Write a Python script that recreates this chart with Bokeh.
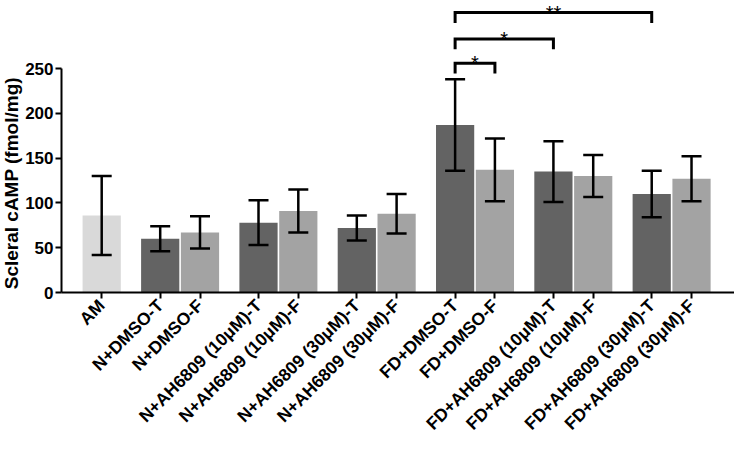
from bokeh.plotting import figure
from bokeh.models import ColumnDataSource, Range1d, FixedTicker, Whisker, TeeHead
from bokeh.core.properties import value
from bokeh.embed import file_html
from bokeh.resources import INLINE
import math

# ---- data ----
categories = ["AM", "N+DMSO-T", "N+DMSO-F",
              "N+AH6809 (10μM)-T", "N+AH6809 (10μM)-F",
              "N+AH6809 (30μM)-T", "N+AH6809 (30μM)-F",
              "FD+DMSO-T", "FD+DMSO-F",
              "FD+AH6809 (10μM)-T", "FD+AH6809 (10μM)-F",
              "FD+AH6809 (30μM)-T", "FD+AH6809 (30μM)-F"]
means = [86, 60, 67, 78, 91, 72, 88, 187, 137, 135, 130, 110, 127]
errors = [44, 14, 18, 25, 24, 14, 22, 51, 35, 34, 23.5, 26, 25]
y_ticks = [0, 50, 100, 150, 200, 250]
y_title = "Scleral cAMP  (fmol/mg)"
comparisons = [("FD+DMSO-T", "FD+DMSO-F", "*"),
               ("FD+DMSO-T", "FD+AH6809 (10μM)-T", "*"),
               ("FD+DMSO-T", "FD+AH6809 (30μM)-T", "**")]

# ---- layout (pixels) ----
FONT = "Liberation Sans"
W, H = 734, 434
AX_LEFT = 61      # y-axis position from figure left
AX_BOTTOM = 292   # x-axis position from figure top
GAP = 1.47
X0, X1 = -1.01, 15.9
Y_TOP = 326
sx_scale = (W - AX_LEFT) / (X1 - X0)
sy_scale = AX_BOTTOM / Y_TOP
x_start = X0 - AX_LEFT / sx_scale
y_start = -(H - AX_BOTTOM) / sy_scale

xs = [0.0]
for g in range(6):
    base = GAP + g * (GAP + 1)
    xs += [base, base + 1]
pos = dict(zip(categories, xs))

def colour(c):
    if c == "AM":
        return "#d9d9d9"
    return "#636363" if c.endswith("-T") else "#a3a3a3"

src = ColumnDataSource(dict(
    x=xs, top=means, cat=categories,
    upper=[m + e for m, e in zip(means, errors)],
    lower=[m - e for m, e in zip(means, errors)],
    color=[colour(c) for c in categories]))

p = figure(width=W, height=H, output_backend="svg", toolbar_location=None,
           x_range=Range1d(x_start, X1), y_range=Range1d(y_start, Y_TOP),
           min_border=0)
p.outline_line_color = None
p.grid.visible = False
p.background_fill_color = "white"

p.vbar(x="x", top="top", width=0.96, bottom=0, source=src,
       fill_color="color", line_color=None)

w = Whisker(base="x", upper="upper", lower="lower", source=src,
            line_color="black", line_width=2.5, level="overlay",
            upper_head=TeeHead(size=20, line_width=2.5, line_color="black"),
            lower_head=TeeHead(size=20, line_width=2.5, line_color="black"))
p.add_layout(w)

# significance brackets
heights = [256, 283, 312.5]
leg = 11.5
bx, by, tx, ty, st = [], [], [], [], []
for (a, b, s), h in zip(comparisons, heights):
    x1, x2 = pos[a], pos[b]
    bx.append([x1, x1, x2, x2])
    by.append([h - leg, h, h, h - leg])
    tx.append((x1 + x2) / 2)
    ty.append(h)
    st.append(s)
p.multi_line(bx, by, line_color="black", line_width=3, line_join="miter")
p.text(tx, ty, text=st, text_align="center", text_baseline="middle",
       text_font=value(FONT), text_font_size="20px", text_color="#000000")

# axes, fixed at the data origin
for ax in (p.xaxis[0], p.yaxis[0]):
    ax.axis_line_width = 2
    ax.axis_line_color = "black"
    ax.major_tick_line_width = 2
    ax.major_tick_line_color = "black"
    ax.major_tick_out = 6
    ax.major_tick_in = 0
    ax.minor_tick_line_color = None
    ax.major_label_text_font = FONT
    ax.major_label_text_font_style = "bold"
    ax.major_label_text_color = "black"

p.yaxis.fixed_location = X0
p.yaxis.ticker = FixedTicker(ticks=y_ticks)
p.yaxis.bounds = (y_ticks[0], y_ticks[-1])
p.yaxis.major_label_standoff = 2
p.yaxis.major_label_text_font_size = "17px"

p.xaxis.fixed_location = 0
p.xaxis.bounds = (X0, X1)
p.xaxis.ticker = FixedTicker(ticks=xs)
p.xaxis.major_label_overrides = {x: c for x, c in zip(xs, categories)}
p.xaxis.major_label_orientation = math.pi / 4
p.xaxis.major_label_standoff = 4
p.xaxis.major_label_text_font_size = "17.5px"

# y-axis title, centred on the axis bounds
p.text([x_start + 11 / sx_scale], [(y_ticks[0] + y_ticks[-1]) / 2], text=[y_title],
       angle=math.pi / 2, text_align="center", text_baseline="middle",
       text_font=value(FONT), text_font_style="bold", text_font_size="19px",
       text_color="black")

open("out.html", "w").write(file_html(p, INLINE))
